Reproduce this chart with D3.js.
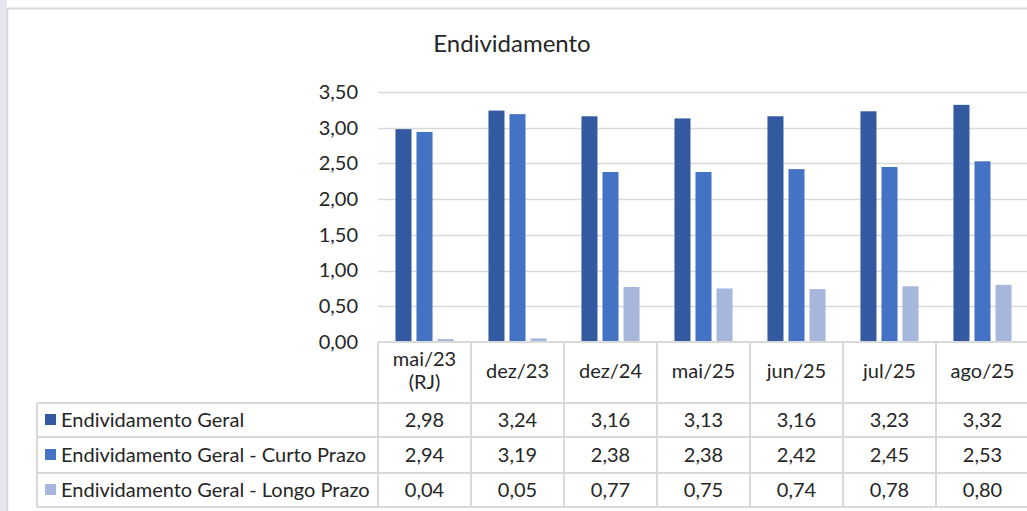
<!DOCTYPE html>
<html>
<head>
<meta charset="utf-8">
<script src="https://cdn.jsdelivr.net/npm/d3@7"></script>
<style>
  html, body { margin: 0; padding: 0; background: #fff; }
  svg { display: block; font-family: Lato, "Noto Sans", sans-serif; }
</style>
</head>
<body>
<svg id="chart"></svg>
<script>
var categories = ["mai/23\n(RJ)", "dez/23", "dez/24", "mai/25", "jun/25", "jul/25", "ago/25"];
var seriesNames = [
  "Endividamento Geral",
  "Endividamento Geral - Curto Prazo",
  "Endividamento Geral - Longo Prazo"
];
var geral = [2.98, 3.24, 3.16, 3.13, 3.16, 3.23, 3.32];
var curto = [2.94, 3.19, 2.38, 2.38, 2.42, 2.45, 2.53];
var longo = [0.04, 0.05, 0.77, 0.75, 0.74, 0.78, 0.80];
var yTicks = [0, 0.5, 1, 1.5, 2, 2.5, 3, 3.5];
var colors = ["#335aa1", "#4472c4", "#a6b6dd"];

(function () {
  var W = 1027, H = 511;
  var values = [geral, curto, longo];
  var fmt = function (v) { return d3.format(".2f")(v).replace(".", ","); };
  var txt = "#262626", fs = "20px";

  var svg = d3.select("#chart").attr("width", W).attr("height", H);

  // frame + left strip
  svg.append("rect").attr("x", 0).attr("y", 0).attr("width", 7).attr("height", H).attr("fill", "#e6e6f0");
  svg.append("line").attr("x1", 7.5).attr("x2", 7.5).attr("y1", 8).attr("y2", H)
    .attr("stroke", "#d4d4d4").attr("stroke-width", 1.5);
  svg.append("line").attr("x1", 7).attr("x2", W).attr("y1", 8.5).attr("y2", 8.5)
    .attr("stroke", "#d9d9d9").attr("stroke-width", 2);

  var x = d3.scaleBand().domain(d3.range(categories.length)).range([378, 1029]);
  var xs = d3.scaleBand().domain(d3.range(3)).range([0, x.bandwidth()])
    .paddingInner(0.238).paddingOuter(0.83);
  var y = d3.scaleLinear().domain([0, 3.5]).range([342, 92]);

  svg.append("text").attr("x", 512).attr("y", 52).attr("text-anchor", "middle")
    .attr("fill", txt).style("font-size", "24px").text("Endividamento");

  // gridlines
  svg.append("g").selectAll("line").data(yTicks.slice(1)).join("line")
    .attr("x1", 378).attr("x2", W)
    .attr("y1", function (d) { return Math.round(y(d)) + 0.5; })
    .attr("y2", function (d) { return Math.round(y(d)) + 0.5; })
    .attr("stroke", "#d9d9d9").attr("stroke-width", 1.5);

  // y axis labels
  var yAxis = d3.axisLeft(y).tickValues(yTicks).tickFormat(fmt).tickSize(0).tickPadding(0);
  var gy = svg.append("g").attr("transform", "translate(358,0)").call(yAxis);
  gy.select(".domain").remove();
  gy.selectAll("text").attr("fill", txt).style("font-size", fs)
    .style("font-family", "Lato, 'Noto Sans', sans-serif");

  // bars
  var bars = svg.append("g");
  values.forEach(function (arr, s) {
    bars.selectAll("rect.s" + s).data(arr).join("rect")
      .attr("class", "s" + s)
      .attr("x", function (d, i) { return x(i) + xs(s); })
      .attr("width", xs.bandwidth())
      .attr("y", function (d) { return y(d); })
      .attr("height", function (d) { return y(0) - y(d); })
      .attr("fill", colors[s]);
  });

  // data table
  var rowY = [342, 403, 437, 473, 507];
  var tLeft = 37, tRight = 1029;
  var tg = svg.append("g").attr("stroke", "#d9d9d9").attr("stroke-width", 2).attr("fill", "none");
  tg.append("line").attr("x1", 378).attr("x2", tRight).attr("y1", rowY[0]).attr("y2", rowY[0]);
  rowY.slice(1).forEach(function (ry) {
    tg.append("line").attr("x1", tLeft).attr("x2", tRight).attr("y1", ry).attr("y2", ry);
  });
  tg.append("line").attr("x1", tLeft).attr("x2", tLeft).attr("y1", rowY[1]).attr("y2", rowY[4]);
  d3.range(categories.length + 1).forEach(function (i) {
    var cx = i < categories.length ? x(i) : x(categories.length - 1) + x.bandwidth();
    tg.append("line").attr("x1", cx).attr("x2", cx).attr("y1", rowY[0]).attr("y2", rowY[4]);
  });

  // header labels
  svg.append("g").selectAll("text").data(categories).join("text")
    .attr("text-anchor", "middle").attr("fill", txt).style("font-size", fs)
    .attr("x", function (d, i) { return x(i) + x.bandwidth() / 2; })
    .attr("y", function (d) { return d.indexOf("\n") >= 0 ? 366 : 378; })
    .each(function (d) {
      var lines = d.split("\n");
      var t = d3.select(this);
      lines.forEach(function (l, k) {
        t.append("tspan").attr("x", t.attr("x")).attr("dy", k === 0 ? 0 : 23).text(l);
      });
    });

  // legend + values rows
  seriesNames.forEach(function (name, s) {
    var top = rowY[s + 1], bot = rowY[s + 2];
    var mid = (top + bot) / 2;
    svg.append("rect").attr("x", 45).attr("y", mid - 6).attr("width", 11).attr("height", 11)
      .attr("fill", colors[s]);
    svg.append("text").attr("x", 61).attr("y", mid + 7).attr("fill", txt)
      .style("font-size", fs).text(name);
    svg.append("g").selectAll("text").data(values[s]).join("text")
      .attr("text-anchor", "middle").attr("fill", txt).style("font-size", fs)
      .attr("x", function (d, i) { return x(i) + x.bandwidth() / 2; })
      .attr("y", mid + 7)
      .text(fmt);
  });
})();
</script>
</body>
</html>
